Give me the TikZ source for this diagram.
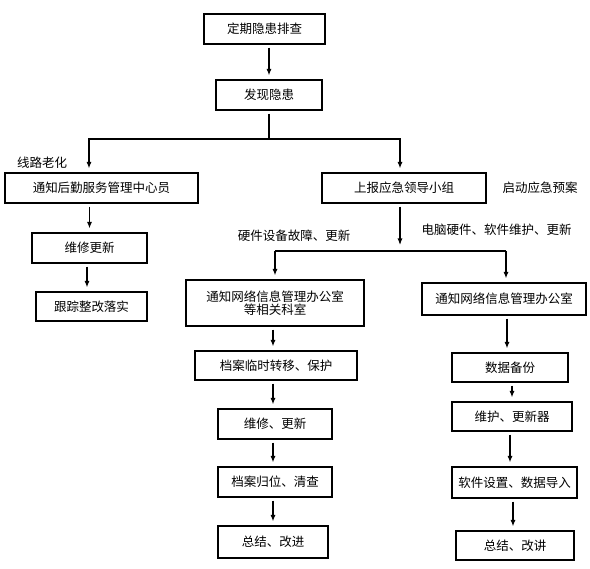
\documentclass[tikz,border=0pt]{standalone}
\usepackage{fontspec}
\setmainfont{Noto Sans CJK SC}
\usetikzlibrary{arrows.meta,calc}

\begin{document}
\begin{tikzpicture}[x=1pt,y=-1pt]
    \tikzset{box/.style={draw, line width=1.1pt, minimum height=30pt, inner sep=2pt, font=\fontsize{12.5}{16}\selectfont},
             lbl/.style={font=\fontsize{12.5}{16}\selectfont},
             wire/.style={line width=1.1pt},
             arr/.style={-{Latex[length=6.5pt, width=5pt]}, line width=1.1pt, shorten <=3pt, shorten >=4pt}}
    \useasboundingbox (0,0) rectangle (590,569);
    % top part
    \node[box, minimum width=121pt] (check) at (264.5,29) {定期隐患排查};
    \node[box, minimum width=106pt] (found) at (269,95) {发现隐患};
    \draw[arr] (check.south -| found.north) -- (found.north);
    \coordinate (split1) at (269,139);
    \draw[wire, shorten <=3pt] (found) -- (split1);

    % left branch
    \node[lbl] (aging) at (42,163) {线路老化};
    \node[box, minimum width=193pt] (notify) at (101.5,188) {通知后勤服务管理中心员};
    \node[box, minimum width=115pt] (repair) at (89.5,248) {维修更新};
    \node[box, minimum width=111pt, minimum height=29pt] (track) at (91.5,306.5) {跟踪整改落实};
    \draw[arr, shorten <=0pt] (split1) -| ([xshift=-12.5pt]notify.north);
    \draw[arr] (notify.south -| repair.north) -- (repair.north);
    \draw[arr] ([xshift=-2.5pt]repair.south) -- ([xshift=-2.5pt]repair.south |- track.north);

    % right branch
    \node[box, minimum width=164pt] (report) at (404,188) {上报应急领导小组};
    \node[lbl] (plan) at (540,188) {启动应急预案};
    \draw[arr, shorten <=0pt] (split1) -| ([xshift=-4pt]report.north);
    \coordinate (split2) at (400,251);
    \coordinate (busl) at (275,251);
    \coordinate (busr) at (506,251);
    \draw[arr, shorten >=6pt] (report.south -| split2) -- (split2);
    \draw[wire] (busl) -- (busr);
    \node[lbl] (hwfault) at (294,236) {硬件设备故障、更新};
    \node[lbl] (pcfix) at (496.5,230) {电脑硬件、软件维护、更新};

    % hardware column
    \node[box, minimum width=178pt, minimum height=46pt, align=center] (hwnotify) at (275,303) {通知网络信息管理办公室\\[-3pt]等相关科室};
    \node[box, minimum width=162pt, minimum height=29pt] (move) at (276,365.5) {档案临时转移、保护};
    \node[box, minimum width=114pt] (hwrepair) at (275,424) {维修、更新};
    \node[box, minimum width=114pt] (restore) at (275,482) {档案归位、清查};
    \node[box, minimum width=110pt, minimum height=32pt] (hwsum) at (273,542) {总结、改进};
    \draw[arr, shorten <=0pt] (busl) -- (hwnotify);
    \draw[arr] ([xshift=-2pt]hwnotify.south) -- ([xshift=-2pt]hwnotify.south |- move.north);
    \draw[arr] ([xshift=-2pt]hwnotify.south |- move.south) -- ([xshift=-2pt]hwnotify.south |- hwrepair.north);
    \draw[arr] ([xshift=-2pt]hwnotify.south |- hwrepair.south) -- ([xshift=-2pt]hwnotify.south |- restore.north);
    \draw[arr] (restore.south -| hwsum.north) -- (hwsum.north);

    % software column
    \node[box, minimum width=164pt, minimum height=32pt] (swnotify) at (504,299) {通知网络信息管理办公室};
    \node[box, minimum width=116pt, minimum height=29pt] (backup) at (510,367.5) {数据备份};
    \node[box, minimum width=120pt, minimum height=29pt] (maintain) at (512,416.5) {维护、更新器};
    \node[box, minimum width=125pt, minimum height=31pt] (setup) at (514.5,482.5) {软件设置、数据导入};
    \node[box, minimum width=118pt, minimum height=29pt] (swsum) at (515,545.5) {总结、改讲};
    \draw[arr, shorten <=0pt] (busr) -- (busr |- swnotify.north);
    \draw[arr] ([xshift=3pt]swnotify.south) -- ([xshift=3pt]swnotify.south |- backup.north);
    \draw[arr] (backup.south -| maintain.north) -- (maintain.north);
    \draw[arr] ([xshift=-2pt]maintain.south) -- ([xshift=-2pt]maintain.south |- setup.north);
    \draw[arr] ([xshift=-1.5pt]setup.south) -- ([xshift=-1.5pt]setup.south |- swsum.north);
\end{tikzpicture}
\end{document}
